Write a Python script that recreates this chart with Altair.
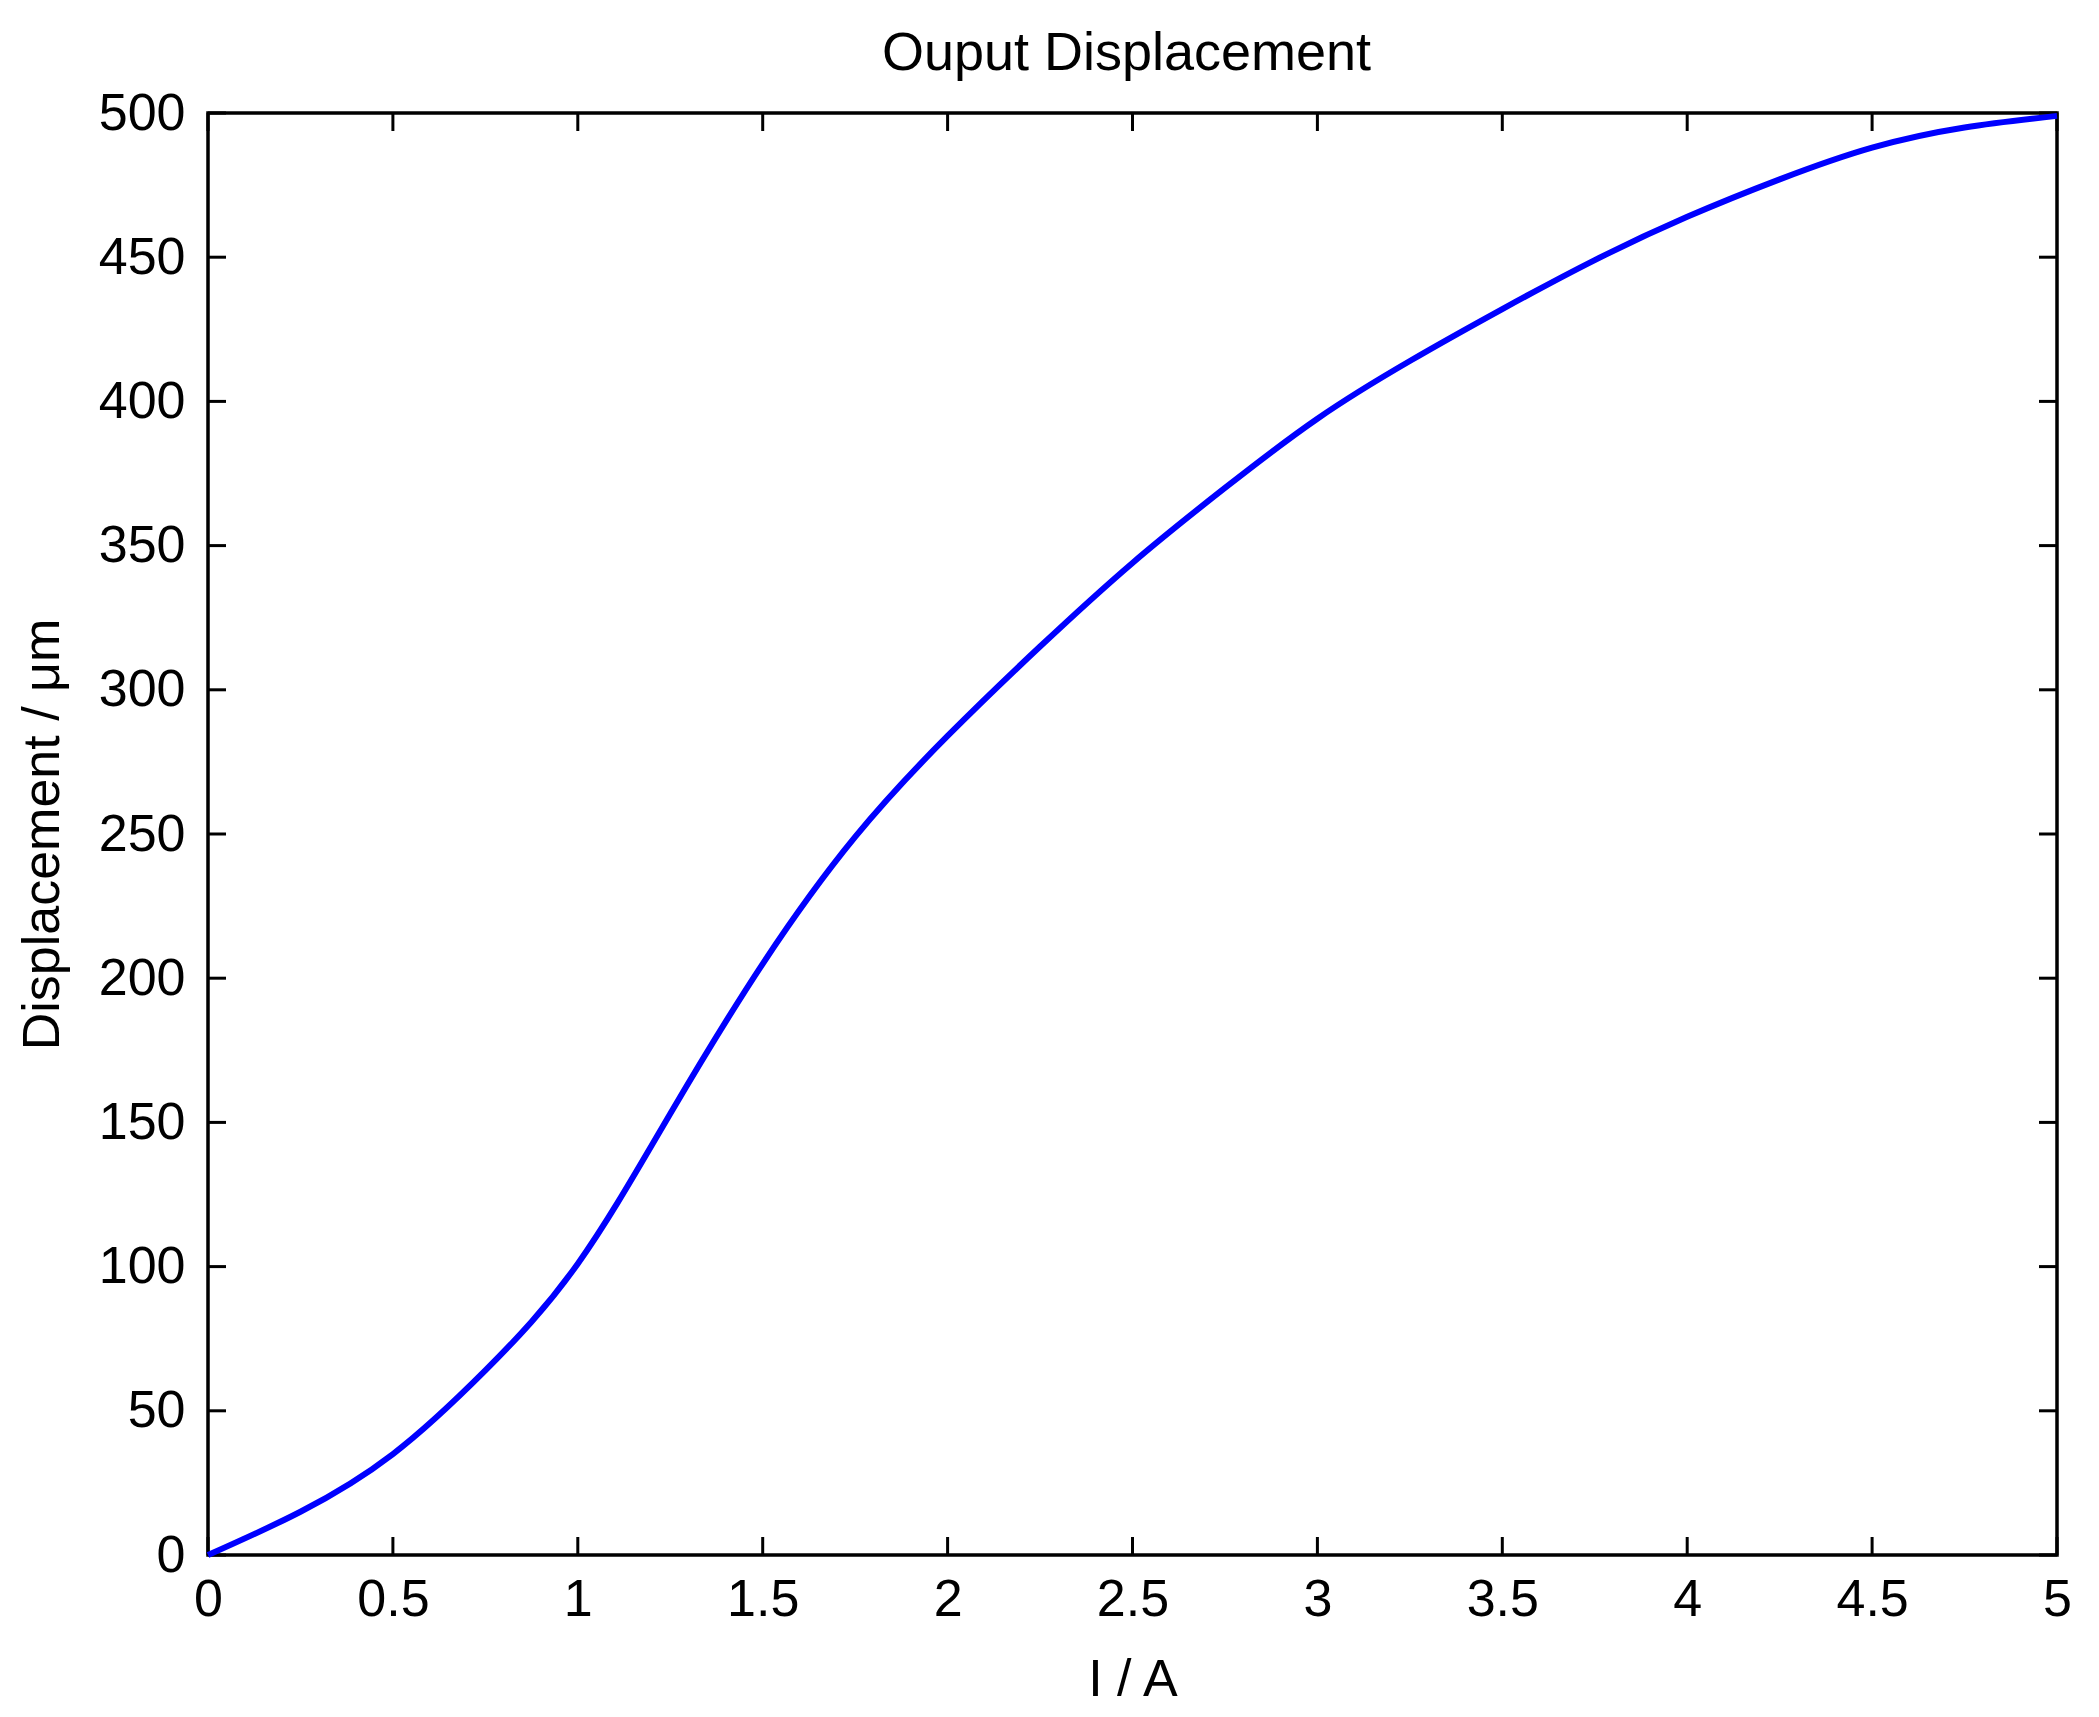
import altair as alt
import pandas as pd

# Data
current_a = [0, 0.25, 0.5, 0.75, 1.0, 1.25, 1.5, 1.75, 2.0, 2.25, 2.5,
             2.75, 3.0, 3.25, 3.5, 3.75, 4.0, 4.25, 4.5, 4.75, 5.0]
displacement_um = [0, 15, 35, 64, 101, 153, 205, 249, 284, 315, 344,
                   370, 394, 414, 432, 449, 464, 477, 488, 495, 499]

x_ticks = [0, 0.5, 1, 1.5, 2, 2.5, 3, 3.5, 4, 4.5, 5]
y_ticks = [0, 50, 100, 150, 200, 250, 300, 350, 400, 450, 500]

chart_title = "Ouput Displacement"
x_title = "I / A"
y_title = "Displacement / μm"

W = 1849
H = 1442
TICK = 18
FONT = "Liberation Sans"
FS = 52

curve = pd.DataFrame({"I": current_a, "D": displacement_um})
xt = pd.DataFrame({"I": x_ticks})
yt = pd.DataFrame({"D": y_ticks})
tt = pd.DataFrame({"t": [chart_title]})

xscale = alt.Scale(domain=[0, 5], nice=False, zero=False)
yscale = alt.Scale(domain=[0, 500], nice=False, zero=False)

xaxis = alt.Axis(
    values=x_ticks, format="~g", ticks=False, tickSize=0, domain=False, grid=False,
    labelFont=FONT, labelFontSize=FS, labelColor="black", labelPadding=19,
    labelFlush=False, labelOverlap=False,
    title=x_title, titleFont=FONT, titleFontSize=FS, titleFontWeight="normal",
    titleColor="black", titleBaseline="alphabetic", titleY=140,
)
yaxis = alt.Axis(
    values=y_ticks, ticks=False, tickSize=0, domain=False, grid=False,
    labelFont=FONT, labelFontSize=FS, labelColor="black", labelPadding=23,
    labelFlush=False, labelOverlap=False,
    title=y_title, titleFont=FONT, titleFontSize=FS,
    titleFontWeight="normal", titleColor="black", titleBaseline="alphabetic",
    titleX=-150, titleAngle=-90,
)

line = alt.Chart(curve).mark_line(color="#0000ff", strokeWidth=6, interpolate="natural").encode(
    x=alt.X("I:Q", scale=xscale, axis=xaxis),
    y=alt.Y("D:Q", scale=yscale, axis=yaxis),
)

tick_style = dict(color="black", strokeWidth=3)

xt_bottom = alt.Chart(xt).mark_rule(**tick_style).encode(
    x=alt.X("I:Q", scale=xscale), y=alt.value(H - TICK), y2=alt.value(H))
xt_top = alt.Chart(xt).mark_rule(**tick_style).encode(
    x=alt.X("I:Q", scale=xscale), y=alt.value(0), y2=alt.value(TICK))
yt_left = alt.Chart(yt).mark_rule(**tick_style).encode(
    y=alt.Y("D:Q", scale=yscale), x=alt.value(0), x2=alt.value(TICK))
yt_right = alt.Chart(yt).mark_rule(**tick_style).encode(
    y=alt.Y("D:Q", scale=yscale), x=alt.value(W - TICK), x2=alt.value(W))

title_mark = alt.Chart(tt).mark_text(
    font=FONT, fontSize=54, color="black", align="center", baseline="alphabetic"
).encode(text="t:N", x=alt.value(W / 2 - 6), y=alt.value(-43))

chart = alt.layer(xt_bottom, xt_top, yt_left, yt_right, line, title_mark).properties(
    width=W, height=H,
    background="white",
    autosize=alt.AutoSizeParams(type="none"),
    padding={"left": 200, "top": 105, "right": 34, "bottom": 160},
).configure_view(stroke="black", strokeWidth=3.5)

chart.save("out.html", embed_options={"renderer": "svg", "actions": False})
